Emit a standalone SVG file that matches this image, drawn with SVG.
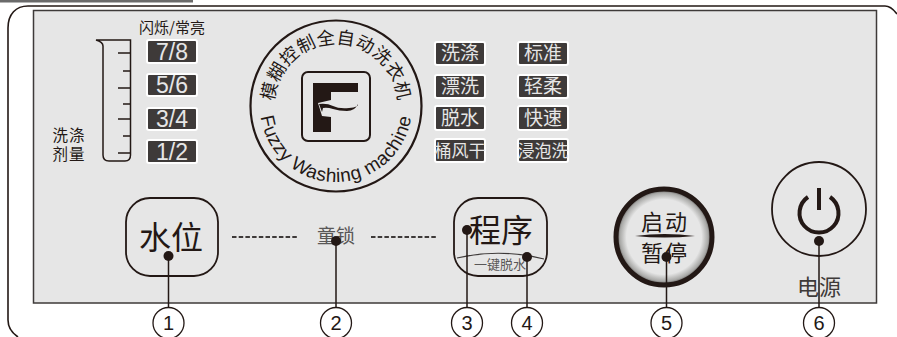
<svg xmlns="http://www.w3.org/2000/svg" width="897" height="337" viewBox="0 0 897 337">
<style>
.cjk{font-family:"Noto Sans CJK SC","Liberation Sans",sans-serif;text-anchor:middle}
.lat{font-family:"Liberation Sans",Arial,sans-serif;text-anchor:middle}
.ink{fill:#231815}
.badge{fill:#3e3a39;stroke:#fff;stroke-width:2}
.bt{fill:#e6e6e6;font-size:19px}
.bt3{fill:#e6e6e6;font-size:17px}
.bl{fill:#e6e6e6;font-size:23px}
.btn{fill:none;stroke:#231815;stroke-width:1.8}
.tick{stroke:#231815;stroke-width:1.5;fill:none}
.lead{stroke:#231815;stroke-width:1.5;fill:none}
.num{fill:#fff;stroke:#231815;stroke-width:1.3}
.dash{stroke:#3e3a39;stroke-width:2;stroke-dasharray:4.5 2.2;fill:none}
</style>
<defs>
<radialGradient id="ringFade" cx="50%" cy="50%" r="50%">
<stop offset="0.78" stop-color="#e6e6e6"/>
<stop offset="0.92" stop-color="#a8a8a6"/>
<stop offset="1" stop-color="#3e3a39"/>
</radialGradient>
<path id="arcTop" d="M282.300 137 A62 62 0 1 1 389.700 137"/>
<path id="arcBottom" d="M264.600 80 A76 76 0 1 0 407.400 80"/>
</defs>
<rect width="897" height="337" fill="#fff"/>
<path d="M0 1H193" stroke="#6a6a6a" stroke-width="3" fill="none"/>
<path id="frame" d="M18 337C12 333 8 328 8 320V28C8 14 16 6 28 6H885C890 6 894 10 897 14" fill="none" stroke="#231815" stroke-width="1.6"/>
<rect id="panel" x="33.500" y="10.500" width="843" height="292.500" fill="#e6e6e6" stroke="#3e3a39" stroke-width="1.5"/>

<g id="level-gauge">
<text class="cjk ink" x="172" y="33" font-size="15">闪烁/常亮</text>
<text class="cjk ink" font-size="15.500" letter-spacing="1"><tspan x="69" y="141">洗涤</tspan><tspan x="69" y="160">剂量</tspan></text>
<path class="tick" d="M96 40H130.500V155Q130.500 161 125 161H109Q103 161 103 155V46Q103 42 96 40Z"/>
<path class="tick" d="M118 53H130M123 71H130M118 88H130M123 104H130M118 119H130M123 136H130M118 153H130"/>
</g>
<g id="level-badges">
<rect class="badge" x="147" y="40" width="50" height="23" rx="2"/><text class="lat bl" x="172" y="60">7/8</text>
<rect class="badge" x="147" y="74" width="50" height="22" rx="2"/><text class="lat bl" x="172" y="93">5/6</text>
<rect class="badge" x="147" y="108" width="50" height="22" rx="2"/><text class="lat bl" x="172" y="127">3/4</text>
<rect class="badge" x="147" y="140" width="50" height="23" rx="2"/><text class="lat bl" x="172" y="160">1/2</text>
</g>

<g id="seal">
<circle cx="336" cy="106" r="85.500" fill="none" stroke="#231815" stroke-width="2.200"/>
<text class="cjk ink" font-size="18" letter-spacing="0.500"><textPath href="#arcTop" startOffset="50%">模糊控制全自动洗衣机</textPath></text>
<text class="lat ink" font-size="19" letter-spacing="0.500"><textPath href="#arcBottom" startOffset="50%">Fuzzy Washing machine</textPath></text>
<rect x="302" y="72" width="68" height="69" rx="6" fill="none" stroke="#231815" stroke-width="2"/>
<path class="ink" d="M313 83H358V92H331V132H313Z"/>
<path d="M318 103L331 100V117L322 116Z" fill="#e6e6e6"/>
<path d="M319 104Q327 103 333 106T349 108T358 104Q355 111 347 111T333 109T323 108L322 112Z" fill="#231815"/>
</g>

<g id="mode-badges">
<rect class="badge" x="435" y="42" width="50" height="23" rx="2"/><text class="cjk bt" x="460" y="60">洗涤</text>
<rect class="badge" x="435" y="75" width="50" height="23" rx="2"/><text class="cjk bt" x="460" y="93">漂洗</text>
<rect class="badge" x="435" y="106" width="50" height="24" rx="2"/><text class="cjk bt" x="460" y="125">脱水</text>
<rect class="badge" x="435" y="139" width="50" height="23" rx="2"/><text class="cjk bt3" x="460" y="157">桶风干</text>
<rect class="badge" x="518" y="42" width="50" height="23" rx="2"/><text class="cjk bt" x="543" y="60">标准</text>
<rect class="badge" x="518" y="75" width="50" height="23" rx="2"/><text class="cjk bt" x="543" y="93">轻柔</text>
<rect class="badge" x="518" y="106" width="50" height="24" rx="2"/><text class="cjk bt" x="543" y="125">快速</text>
<rect class="badge" x="518" y="139" width="50" height="23" rx="2"/><text class="cjk bt3" x="543" y="157">浸泡洗</text>
</g>

<g id="btn-water">
<rect class="btn" x="126" y="198" width="92" height="78" rx="24"/>
<text class="cjk ink" x="171" y="249" font-size="32">水位</text>
</g>
<g id="child-lock">
<path class="dash" d="M232 237H298M371 237H438"/>
<text class="cjk" x="336" y="243" font-size="19" fill="#595757">童锁</text>
</g>
<g id="btn-program">
<rect class="btn" x="454" y="198" width="93" height="78" rx="24"/>
<path d="M457 258Q500 248 544 259" fill="none" stroke="#3e3a39" stroke-width="1.200"/>
<text class="cjk ink" x="501" y="242" font-size="32">程序</text>
<text class="cjk" x="500" y="269" font-size="13" fill="#595757">一键脱水</text>
</g>
<g id="btn-start">
<circle cx="664" cy="237" r="48" fill="url(#ringFade)" stroke="#231815" stroke-width="5"/>
<text class="cjk ink" font-size="22" letter-spacing="2"><tspan x="665" y="230">启动</tspan><tspan x="665" y="261">暂停</tspan></text>
<path d="M635 236Q664 232 695 236Q664 239 635 236Z" fill="#231815"/>
</g>
<g id="btn-power">
<circle cx="819" cy="209" r="47" fill="none" stroke="#231815" stroke-width="1.800"/>
<path d="M808 197A19.500 19.500 0 1 0 830 197" fill="none" stroke="#231815" stroke-width="4"/>
<path d="M819 188V210" stroke="#231815" stroke-width="4" fill="none"/>
<text class="cjk" x="819" y="295" font-size="22" fill="#3e3a39">电源</text>
</g>

<g id="connectors">
<path class="lead" d="M168.500 256V308M336 241V308M467 230V308M527 257V308M666.500 257V308M819 241V308"/>
<g class="ink">
<circle cx="168.500" cy="256" r="5"/><circle cx="336" cy="241" r="5"/><circle cx="467" cy="230" r="5"/><circle cx="527" cy="257" r="5"/><circle cx="666.500" cy="257" r="5"/><circle cx="819" cy="241" r="5"/>
</g>
</g>

<g id="callout-1"><circle class="num" cx="168.500" cy="323" r="15.500"/><text class="lat ink" x="168.500" y="330" font-size="20">1</text></g>
<g id="callout-2"><circle class="num" cx="336" cy="323" r="15.500"/><text class="lat ink" x="336" y="330" font-size="20">2</text></g>
<g id="callout-3"><circle class="num" cx="467" cy="323" r="15.500"/><text class="lat ink" x="467" y="330" font-size="20">3</text></g>
<g id="callout-4"><circle class="num" cx="527" cy="323" r="15.500"/><text class="lat ink" x="527" y="330" font-size="20">4</text></g>
<g id="callout-5"><circle class="num" cx="666.500" cy="323" r="15.500"/><text class="lat ink" x="666.500" y="330" font-size="20">5</text></g>
<g id="callout-6"><circle class="num" cx="819" cy="323" r="15.500"/><text class="lat ink" x="819" y="330" font-size="20">6</text></g>
</svg>
